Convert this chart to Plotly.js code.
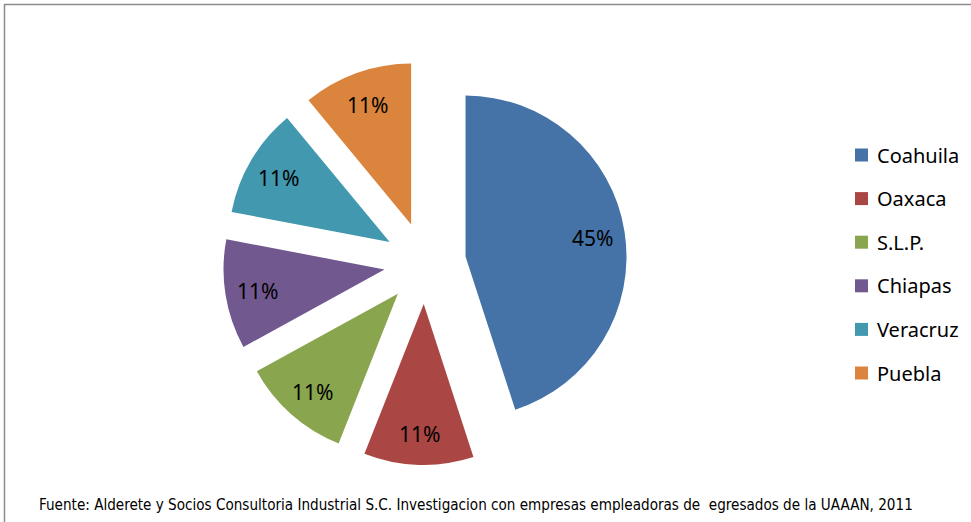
<!DOCTYPE html>
<html>
<head>
<meta charset="utf-8">
<script src="https://cdn.plot.ly/plotly-3.0.1.min.js"></script>
<style>html,body{margin:0;padding:0;background:#fff;}#chart{width:971px;height:522px;}</style>
</head>
<body>
<div id="chart"></div>
<script>
const labels = ["Coahuila", "Oaxaca", "S.L.P.", "Chiapas", "Veracruz", "Puebla"];
const values = [45, 11, 11, 11, 11, 11];
const colors = ["#4572A7", "#AA4643", "#89A54E", "#71588F", "#4198AF", "#DB843D"];
const sourceText = "Fuente: Alderete y Socios Consultoria Industrial S.C. Investigacion con empresas empleadoras de  egresados de la UAAAN, 2011";

const W = 971, H = 522;
const px = x => x / W;
const py = y => 1 - y / H;

const PULL = 0.255;
const domX = [px(223), px(627)];
const domY = [py(465), py(61)];

const trace = {
  type: "pie",
  labels: labels,
  values: values,
  sort: false,
  direction: "clockwise",
  rotation: 0,
  pull: labels.map(() => PULL),
  marker: { colors: colors, line: { width: 0 } },
  textinfo: "none",
  domain: { x: domX, y: domY },
  showlegend: false,
  hoverinfo: "label+percent"
};

const shapes = [
  { type: "line", xref: "paper", yref: "paper", x0: px(4), x1: px(975), y0: py(4.5), y1: py(4.5), line: { color: "#8c8c8c", width: 1.5 } },
  { type: "line", xref: "paper", yref: "paper", x0: px(4.5), x1: px(4.5), y0: py(4), y1: py(530), line: { color: "#8c8c8c", width: 1.5 } }
];
const annotations = [];

// percentage labels, placed along each slice's bisector (derived from the values)
const total = values.reduce((a, b) => a + b, 0);
const boxW = (domX[1] - domX[0]) * W, boxH = (domY[1] - domY[0]) * H;
const R = Math.min(boxW, boxH) / (2 + 2 * PULL);
const cx = (domX[0] + domX[1]) / 2 * W;
const cy = (1 - (domY[0] + domY[1]) / 2) * H;
let cum = 0;
values.forEach((v, i) => {
  const mid = (cum + v / 2) / total * 2 * Math.PI;
  cum += v;
  const d = PULL * R + 0.8 * R;
  const x = cx + d * Math.sin(mid);
  const y = cy - d * Math.cos(mid);
  annotations.push({ xref: "paper", yref: "paper", x: px(x), y: py(y + 1.5), xanchor: "center", yanchor: "middle", showarrow: false,
    text: Math.round(v / total * 100) + "%", font: { family: "Noto Sans, sans-serif", size: 21, color: "#000000" } });
});

// legend
const legendTop = 155, legendStep = 43.6;
labels.forEach((lab, i) => {
  const yc = legendTop + i * legendStep;
  shapes.push({ type: "rect", xref: "paper", yref: "paper", x0: px(855), x1: px(868), y0: py(yc + 6.5), y1: py(yc - 6.5), fillcolor: colors[i], line: { width: 0 } });
  annotations.push({ xref: "paper", yref: "paper", x: px(875), y: py(yc), xanchor: "left", yanchor: "middle", showarrow: false, text: lab, font: { family: "Noto Sans, sans-serif", size: 20, color: "#000000" } });
});
annotations.push({ xref: "paper", yref: "paper", x: px(37), y: py(505), xanchor: "left", yanchor: "middle", showarrow: false, text: sourceText, font: { family: "Liberation Sans Narrow, DejaVu Sans Condensed, Noto Sans, sans-serif", size: 15.1, color: "#000000" } });

const layout = {
  width: W, height: H,
  margin: { l: 0, r: 0, t: 0, b: 0 },
  paper_bgcolor: "#ffffff",
  plot_bgcolor: "#ffffff",
  showlegend: false,
  shapes: shapes,
  annotations: annotations
};
Plotly.newPlot("chart", [trace], layout, { displayModeBar: false, staticPlot: true });
</script>
</body>
</html>
